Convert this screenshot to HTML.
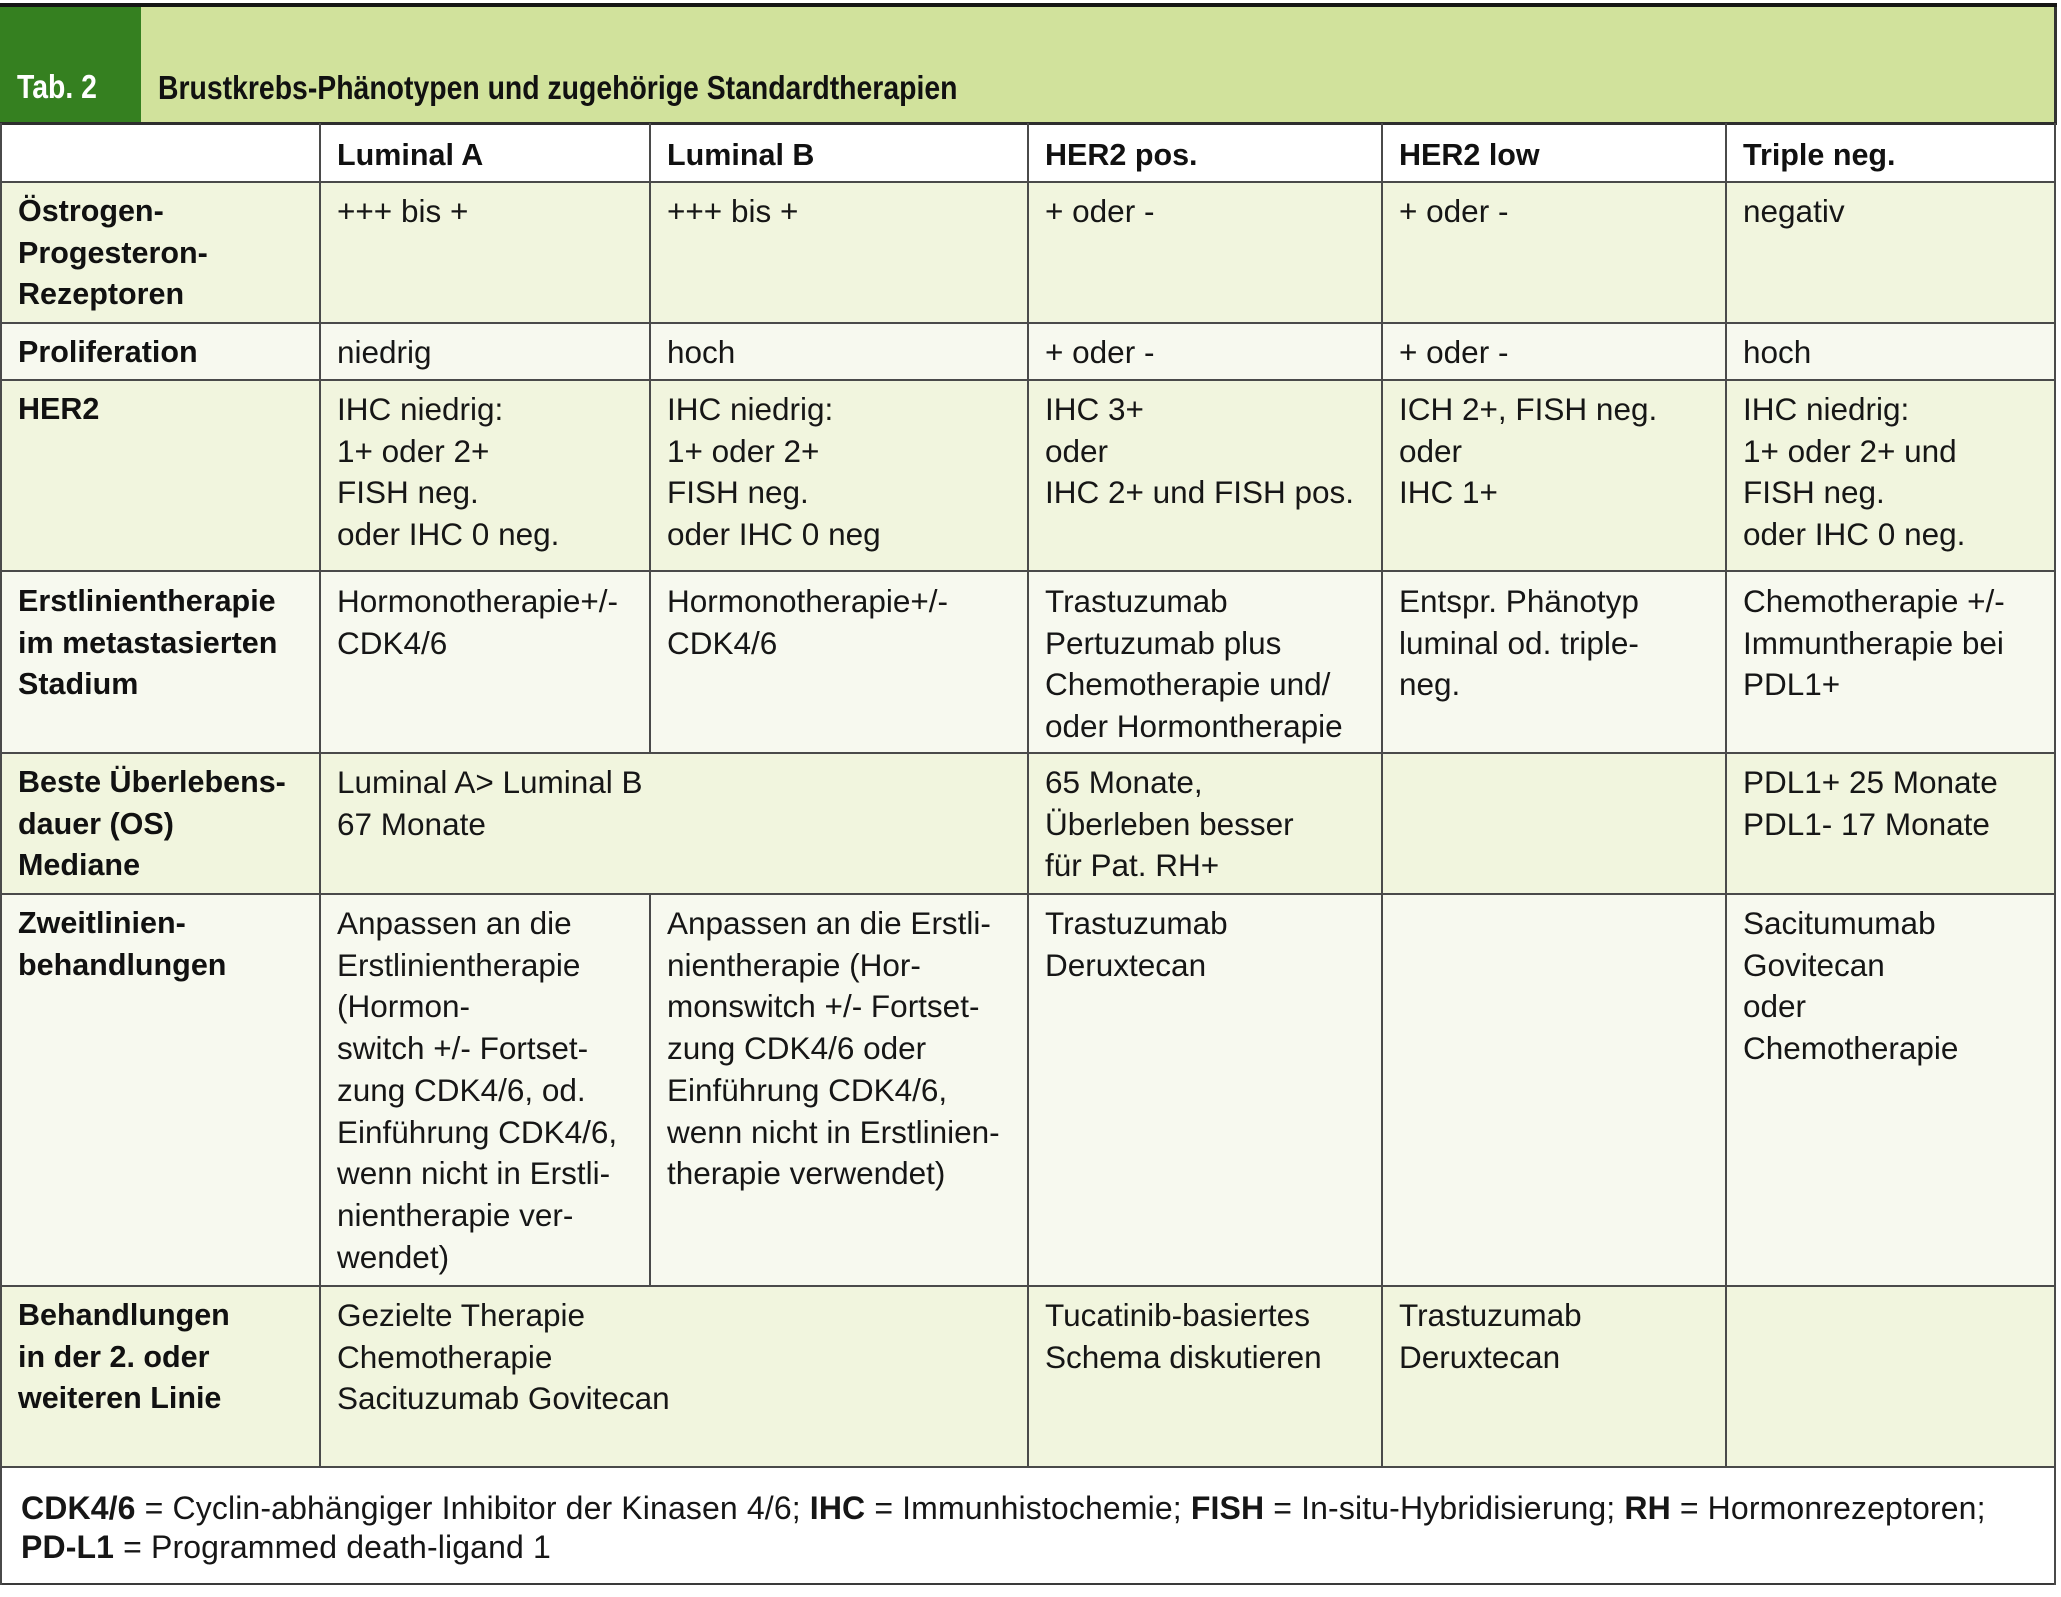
<!DOCTYPE html>
<html><head><meta charset="utf-8">
<style>
html,body{margin:0;padding:0;background:#fff;}
#c{position:relative;width:2061px;height:1597px;overflow:hidden;background:#fff;font-family:"Liberation Sans",Arial,sans-serif;color:#161616;}
.r{position:absolute;}
.h{position:absolute;height:2px;background:#4a4a4a;}
.v{position:absolute;width:2px;background:#4a4a4a;}
.t{position:absolute;font-size:31.5px;line-height:41.7px;white-space:nowrap;}
.b{position:absolute;font-size:30.5px;line-height:41.7px;font-weight:bold;white-space:nowrap;color:#111;}
.ti{position:absolute;font-size:33px;line-height:33px;font-weight:bold;white-space:nowrap;transform:scaleX(0.86);transform-origin:0 0;}
.f{position:absolute;left:21px;top:1489px;font-size:32px;line-height:39px;white-space:nowrap;letter-spacing:0.13px;}
.f b{font-weight:bold;}
</style></head><body><div id="c">
<!-- top bar -->
<div class="r" style="left:0;top:3px;width:2057px;height:4px;background:#151515"></div>
<!-- header green -->
<div class="r" style="left:0;top:7px;width:141px;height:116px;background:#358020"></div>
<div class="r" style="left:141px;top:7px;width:1914px;height:116px;background:#d1e29c"></div>
<div class="r" style="left:2054px;top:7px;width:3px;height:118px;background:#333"></div>
<div class="ti" style="left:17px;top:70px;color:#fff">Tab. 2</div>
<div class="ti" style="left:158px;top:71px;color:#111">Brustkrebs-Phänotypen und zugehörige Standardtherapien</div>

<!-- row backgrounds -->
<div class="r" style="left:0;top:123px;width:2056px;height:59px;background:#fff"></div>
<div class="r" style="left:0;top:182px;width:2056px;height:141px;background:#f1f5de"></div>
<div class="r" style="left:0;top:323px;width:2056px;height:57px;background:#f7f9ef"></div>
<div class="r" style="left:0;top:380px;width:2056px;height:191px;background:#f1f5de"></div>
<div class="r" style="left:0;top:571px;width:2056px;height:182px;background:#f7f9ef"></div>
<div class="r" style="left:0;top:753px;width:2056px;height:141px;background:#f1f5de"></div>
<div class="r" style="left:0;top:894px;width:2056px;height:392px;background:#f7f9ef"></div>
<div class="r" style="left:0;top:1286px;width:2056px;height:181px;background:#f1f5de"></div>
<div class="r" style="left:0;top:1467px;width:2056px;height:118px;background:#fff"></div>

<!-- horizontal lines -->
<div class="r" style="left:0;top:122px;width:2057px;height:3px;background:#2e2e2e"></div>
<div class="h" style="left:0;top:181px;width:2056px"></div>
<div class="h" style="left:0;top:322px;width:2056px"></div>
<div class="h" style="left:0;top:379px;width:2056px"></div>
<div class="h" style="left:0;top:570px;width:2056px"></div>
<div class="h" style="left:0;top:752px;width:2056px"></div>
<div class="h" style="left:0;top:893px;width:2056px"></div>
<div class="h" style="left:0;top:1285px;width:2056px"></div>
<div class="h" style="left:0;top:1466px;width:2056px"></div>
<div class="h" style="left:0;top:1583px;width:2056px;background:#3a3a3a"></div>

<!-- vertical lines -->
<div class="v" style="left:0;top:123px;height:1462px"></div>
<div class="v" style="left:2054px;top:123px;height:1462px"></div>
<div class="v" style="left:319px;top:123px;height:1344px"></div>
<div class="v" style="left:649px;top:123px;height:630px"></div>
<div class="v" style="left:649px;top:894px;height:392px"></div>
<div class="v" style="left:1027px;top:123px;height:1344px"></div>
<div class="v" style="left:1381px;top:123px;height:1344px"></div>
<div class="v" style="left:1725px;top:123px;height:1344px"></div>

<!-- header row -->
<div class="b" style="left:337px;top:135px">Luminal A</div>
<div class="b" style="left:667px;top:135px">Luminal B</div>
<div class="b" style="left:1045px;top:135px">HER2 pos.</div>
<div class="b" style="left:1399px;top:135px">HER2 low</div>
<div class="b" style="left:1743px;top:135px">Triple neg.</div>

<!-- row 1 -->
<div class="b" style="left:18px;top:191px">Östrogen-<br>Progesteron-<br>Rezeptoren</div>
<div class="t" style="left:337px;top:191px">+++ bis +</div>
<div class="t" style="left:667px;top:191px">+++ bis +</div>
<div class="t" style="left:1045px;top:191px">+ oder -</div>
<div class="t" style="left:1399px;top:191px">+ oder -</div>
<div class="t" style="left:1743px;top:191px">negativ</div>

<!-- row 2 -->
<div class="b" style="left:18px;top:332px">Proliferation</div>
<div class="t" style="left:337px;top:332px">niedrig</div>
<div class="t" style="left:667px;top:332px">hoch</div>
<div class="t" style="left:1045px;top:332px">+ oder -</div>
<div class="t" style="left:1399px;top:332px">+ oder -</div>
<div class="t" style="left:1743px;top:332px">hoch</div>

<!-- row 3 -->
<div class="b" style="left:18px;top:389px">HER2</div>
<div class="t" style="left:337px;top:389px">IHC niedrig:<br>1+ oder 2+<br>FISH neg.<br>oder IHC 0 neg.</div>
<div class="t" style="left:667px;top:389px">IHC niedrig:<br>1+ oder 2+<br>FISH neg.<br>oder IHC 0 neg</div>
<div class="t" style="left:1045px;top:389px">IHC 3+<br>oder<br>IHC 2+ und FISH pos.</div>
<div class="t" style="left:1399px;top:389px">ICH 2+, FISH neg.<br>oder<br>IHC 1+</div>
<div class="t" style="left:1743px;top:389px">IHC niedrig:<br>1+ oder 2+ und<br>FISH neg.<br>oder IHC 0 neg.</div>

<!-- row 4 -->
<div class="b" style="left:18px;top:581px">Erstlinientherapie<br>im metastasierten<br>Stadium</div>
<div class="t" style="left:337px;top:581px">Hormonotherapie+/-<br>CDK4/6</div>
<div class="t" style="left:667px;top:581px">Hormonotherapie+/-<br>CDK4/6</div>
<div class="t" style="left:1045px;top:581px">Trastuzumab<br>Pertuzumab plus<br>Chemotherapie und/<br>oder Hormontherapie</div>
<div class="t" style="left:1399px;top:581px">Entspr. Phänotyp<br>luminal od. triple-<br>neg.</div>
<div class="t" style="left:1743px;top:581px">Chemotherapie +/-<br>Immuntherapie bei<br>PDL1+</div>

<!-- row 5 -->
<div class="b" style="left:18px;top:762px">Beste Überlebens-<br>dauer (OS)<br>Mediane</div>
<div class="t" style="left:337px;top:762px">Luminal A&gt; Luminal B<br>67 Monate</div>
<div class="t" style="left:1045px;top:762px">65 Monate,<br>Überleben besser<br>für Pat. RH+</div>
<div class="t" style="left:1743px;top:762px">PDL1+ 25 Monate<br>PDL1- 17 Monate</div>

<!-- row 6 -->
<div class="b" style="left:18px;top:903px">Zweitlinien-<br>behandlungen</div>
<div class="t" style="left:337px;top:903px">Anpassen an die<br>Erstlinientherapie<br>(Hormon-<br>switch +/- Fortset-<br>zung CDK4/6, od.<br>Einführung CDK4/6,<br>wenn nicht in Erstli-<br>nientherapie ver-<br>wendet)</div>
<div class="t" style="left:667px;top:903px">Anpassen an die Erstli-<br>nientherapie (Hor-<br>monswitch +/- Fortset-<br>zung CDK4/6 oder<br>Einführung CDK4/6,<br>wenn nicht in Erstlinien-<br>therapie verwendet)</div>
<div class="t" style="left:1045px;top:903px">Trastuzumab<br>Deruxtecan</div>
<div class="t" style="left:1743px;top:903px">Sacitumumab<br>Govitecan<br>oder<br>Chemotherapie</div>

<!-- row 7 -->
<div class="b" style="left:18px;top:1295px">Behandlungen<br>in der 2. oder<br>weiteren Linie</div>
<div class="t" style="left:337px;top:1295px">Gezielte Therapie<br>Chemotherapie<br>Sacituzumab Govitecan</div>
<div class="t" style="left:1045px;top:1295px">Tucatinib-basiertes<br>Schema diskutieren</div>
<div class="t" style="left:1399px;top:1295px">Trastuzumab<br>Deruxtecan</div>

<!-- footer -->
<div class="f"><b>CDK4/6</b> = Cyclin-abhängiger Inhibitor der Kinasen 4/6; <b>IHC</b> = Immunhistochemie; <b>FISH</b> = In-situ-Hybridisierung; <b>RH</b> = Hormonrezeptoren;<br><b>PD-L1</b> = Programmed death-ligand 1</div>
</div></body></html>
